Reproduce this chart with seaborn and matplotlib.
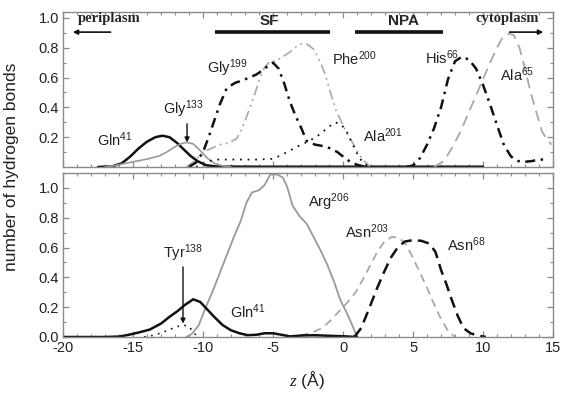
import matplotlib
matplotlib.use("Agg")
import matplotlib.pyplot as plt
from matplotlib.ticker import MultipleLocator, FixedLocator
import seaborn as sns
import pandas as pd

# ---------------- data ----------------
# top panel
gln41_top_x = [-17.5, -16.5, -15.8, -15.2, -14.6, -14.0, -13.4, -12.9, -12.4, -11.9, -11.4, -10.9, -10.4, -9.8, -9.0, -6.0, -2.0, 2.0, 6.0, 10.0]
gln41_top_y = [0.0, 0.004, 0.025, 0.07, 0.125, 0.17, 0.2, 0.21, 0.2, 0.165, 0.12, 0.075, 0.04, 0.012, 0.003, 0.002, 0.002, 0.002, 0.002, 0.002]

gly133_x = [-17.0, -16.3, -15.5, -14.7, -13.9, -13.1, -12.6, -12.1, -11.6, -11.2, -10.7, -10.2, -9.7, -9.2, -8.6, -8.0]
gly133_y = [0.0, 0.01, 0.025, 0.04, 0.055, 0.075, 0.1, 0.13, 0.155, 0.165, 0.155, 0.11, 0.06, 0.025, 0.008, 0.0]

gly199_x = [-11.0, -10.5, -10.0, -9.6, -9.2, -8.8, -8.3, -7.7, -7.2, -6.7, -6.2, -5.8, -5.4, -5.0, -4.6, -4.2, -3.8, -3.4, -3.0, -2.6, -2.0, -1.4, -0.9, -0.4, 0.2, 0.6, 1.0, 1.5]
gly199_y = [0.0, 0.03, 0.1, 0.2, 0.31, 0.42, 0.53, 0.565, 0.58, 0.6, 0.62, 0.645, 0.675, 0.70, 0.66, 0.56, 0.44, 0.345, 0.265, 0.175, 0.15, 0.14, 0.125, 0.1, 0.055, 0.03, 0.015, 0.003]

phe200_x = [-11.2, -10.6, -10.0, -9.4, -8.8, -8.2, -7.6, -7.2, -6.8, -6.4, -6.0, -5.6, -5.2, -4.8, -4.3, -3.8, -3.3, -2.9, -2.5, -2.1, -1.7, -1.3, -0.9, -0.5, -0.1, 0.3, 0.7, 1.1, 1.5, 1.9]
phe200_y = [0.0, 0.04, 0.1, 0.125, 0.15, 0.16, 0.19, 0.26, 0.36, 0.46, 0.58, 0.67, 0.71, 0.71, 0.74, 0.77, 0.81, 0.83, 0.82, 0.79, 0.72, 0.63, 0.5, 0.38, 0.3, 0.22, 0.16, 0.09, 0.04, 0.005]

ala201_x = [-10.5, -9.8, -9.2, -8.0, -7.0, -6.0, -5.0, -4.4, -3.8, -3.1, -2.4, -1.8, -1.2, -0.6, -0.2, 0.2, 0.6, 1.0, 1.4, 1.8]
ala201_y = [0.0, 0.03, 0.05, 0.05, 0.05, 0.05, 0.055, 0.08, 0.11, 0.145, 0.175, 0.21, 0.255, 0.3, 0.29, 0.25, 0.17, 0.09, 0.03, 0.005]

his66_x = [4.5, 5.0, 5.5, 6.0, 6.5, 7.0, 7.5, 8.0, 8.5, 9.0, 9.5, 10.0, 10.5, 11.0, 11.5, 12.0, 12.5, 13.0, 13.5, 14.0, 14.5]
his66_y = [0.0, 0.01, 0.06, 0.15, 0.26, 0.4, 0.59, 0.71, 0.74, 0.72, 0.66, 0.55, 0.42, 0.28, 0.145, 0.07, 0.04, 0.035, 0.04, 0.05, 0.05]

ala65_x = [6.5, 7.2, 7.8, 8.4, 9.0, 9.5, 10.0, 10.5, 11.0, 11.4, 11.8, 12.2, 12.6, 13.0, 13.4, 13.8, 14.2, 14.6, 14.9]
ala65_y = [0.0, 0.04, 0.13, 0.24, 0.37, 0.48, 0.59, 0.7, 0.8, 0.87, 0.895, 0.885, 0.8, 0.66, 0.5, 0.37, 0.24, 0.18, 0.15]

# bottom panel
gln41_bot_x = [-20.0, -17.0, -16.0, -15.4, -14.6, -13.8, -13.0, -12.4, -11.8, -11.3, -10.7, -10.2, -9.7, -9.2, -8.6, -8.0, -7.4, -6.8, -6.2, -5.6, -5.0, -4.4, -3.8, -3.0, -2.0, -1.0, 0.0, 1.0]
gln41_bot_y = [0.0, 0.0, 0.003, 0.013, 0.03, 0.05, 0.09, 0.135, 0.175, 0.215, 0.253, 0.235, 0.185, 0.135, 0.08, 0.045, 0.025, 0.012, 0.015, 0.025, 0.025, 0.015, 0.004, 0.01, 0.012, 0.008, 0.005, 0.0]

tyr138_x = [-14.2, -13.5, -12.9, -12.4, -11.9, -11.4, -11.0, -10.7, -10.4]
tyr138_y = [0.0, 0.012, 0.03, 0.05, 0.068, 0.08, 0.07, 0.035, 0.0]

arg206_x = [-11.2, -10.8, -10.3, -9.8, -9.3, -8.8, -8.3, -7.8, -7.3, -6.9, -6.5, -6.0, -5.6, -5.2, -4.7, -4.3, -4.0, -3.6, -3.1, -2.6, -2.1, -1.6, -1.1, -0.6, -0.2, 0.3, 0.7, 1.0]
arg206_y = [0.0, 0.02, 0.08, 0.2, 0.31, 0.43, 0.55, 0.67, 0.78, 0.9, 0.97, 0.985, 1.02, 1.09, 1.09, 1.07, 1.01, 0.88, 0.81, 0.76, 0.67, 0.58, 0.48, 0.36, 0.25, 0.155, 0.07, 0.0]

asn203_x = [-4.0, -3.0, -2.2, -1.5, -0.9, -0.3, 0.3, 0.9, 1.5, 2.0, 2.5, 3.0, 3.5, 4.0, 4.5, 5.0, 5.5, 6.0, 6.5, 7.0, 7.5, 8.0]
asn203_y = [0.0, 0.01, 0.03, 0.06, 0.11, 0.17, 0.23, 0.3, 0.4, 0.49, 0.58, 0.645, 0.672, 0.665, 0.62, 0.53, 0.43, 0.33, 0.22, 0.12, 0.04, 0.0]

asn68_x = [0.8, 1.3, 1.9, 2.4, 2.9, 3.4, 3.9, 4.4, 5.0, 5.6, 6.2, 6.6, 7.0, 7.4, 7.8, 8.2, 8.6, 9.1, 9.6, 10.2]
asn68_y = [0.0, 0.06, 0.2, 0.32, 0.43, 0.53, 0.6, 0.64, 0.65, 0.645, 0.625, 0.57, 0.45, 0.35, 0.24, 0.14, 0.06, 0.025, 0.01, 0.0]

x_ticks = [-20, -15, -10, -5, 0, 5, 10, 15]
x_tick_labels = ["-20", "-15", "-10", "-5", "0", "5", "10", "15"]
top_y_ticks = [0.2, 0.4, 0.6, 0.8, 1.0]
bot_y_ticks = [0.0, 0.2, 0.4, 0.6, 0.8, 1.0]

# ---------------- style ----------------
sns.set_style("ticks")
plt.rcParams["font.family"] = ["Liberation Sans", "DejaVu Sans"]
plt.rcParams["mathtext.fontset"] = "custom"
plt.rcParams["mathtext.rm"] = "Liberation Sans"
plt.rcParams["mathtext.it"] = "Liberation Serif:italic"
plt.rcParams["mathtext.bf"] = "Liberation Sans:bold"
plt.rcParams["mathtext.default"] = "regular"
plt.rcParams["axes.unicode_minus"] = False

BLACK = "#111111"
GRAY = "#9a9a9a"
LGRAY = "#a8a8a8"
FRAME = "#8a8a8a"

fig = plt.figure(figsize=(5.62, 3.96), dpi=100)
ax1 = fig.add_axes([0.1121, 0.5783, 0.872, 0.3914])
ax2 = fig.add_axes([0.1121, 0.149, 0.872, 0.4141])


def draw(ax, xs, ys, color, lw, ls):
    df = pd.DataFrame({"z": xs, "n": ys})
    sns.lineplot(data=df, x="z", y="n", ax=ax, color=color, linewidth=lw,
                 linestyle=ls, estimator=None, sort=False, legend=False)


# top panel curves
draw(ax1, gln41_top_x, gln41_top_y, BLACK, 1.8, "-")
draw(ax1, gly133_x, gly133_y, GRAY, 1.2, "-")
draw(ax1, phe200_x, phe200_y, LGRAY, 1.2, (0, (6, 2.5, 1.2, 2.5, 1.2, 2.5)))
draw(ax1, gly199_x, gly199_y, BLACK, 1.8, (0, (4, 2.2, 1, 2.2)))
draw(ax1, ala201_x, ala201_y, BLACK, 1.3, (0, (1, 3.2)))
draw(ax1, his66_x, his66_y, BLACK, 1.8, (0, (4, 2.2, 1, 2.2)))
draw(ax1, ala65_x, ala65_y, LGRAY, 1.3, (0, (6, 3.5)))

# bottom panel curves
draw(ax2, arg206_x, arg206_y, GRAY, 1.3, "-")
draw(ax2, asn203_x, asn203_y, LGRAY, 1.3, (0, (4.5, 3)))
draw(ax2, gln41_bot_x, gln41_bot_y, BLACK, 1.8, "-")
draw(ax2, tyr138_x, tyr138_y, BLACK, 1.2, (0, (1, 3.2)))
draw(ax2, asn68_x, asn68_y, BLACK, 1.8, (0, (4.5, 2.5)))

for ax in (ax1, ax2):
    ax.set_xlim(-20, 15)
    ax.set_xlabel("")
    ax.set_ylabel("")
    ax.xaxis.set_major_locator(FixedLocator(x_ticks))
    ax.xaxis.set_minor_locator(MultipleLocator(1))
    ax.yaxis.set_minor_locator(MultipleLocator(0.1))
    ax.tick_params(which="both", direction="in", top=True, right=True,
                   color=FRAME, labelsize=10.5, labelcolor="#222222")
    ax.tick_params(which="major", length=4.5, width=0.9, pad=3)
    ax.tick_params(which="minor", length=2.5, width=0.8)
    for s in ax.spines.values():
        s.set_color(FRAME)
        s.set_linewidth(1.0)

ax1.set_ylim(0, 1.04)
ax1.yaxis.set_major_locator(FixedLocator(top_y_ticks))
ax1.set_yticklabels([f"{v:.1f}" for v in top_y_ticks])
ax1.set_xticklabels([])

ax2.set_ylim(0, 1.1)
ax2.yaxis.set_major_locator(FixedLocator(bot_y_ticks))
ax2.set_yticklabels([f"{v:.1f}" for v in bot_y_ticks])
ax2.set_xticklabels(x_tick_labels)

# region labels on top panel
serif = ["Liberation Serif", "DejaVu Serif"]
ax1.text(-16.7, 0.995, "periplasm", family=serif, weight="bold", fontsize=10.5,
         ha="center", va="center")
ax1.annotate("", xy=(-19.3, 0.905), xytext=(-16.6, 0.905),
             arrowprops=dict(arrowstyle="-|>", color=BLACK, lw=1.2, mutation_scale=7,
                             shrinkA=0, shrinkB=0))
ax1.text(11.7, 0.995, "cytoplasm", family=serif, weight="bold", fontsize=10.5,
         ha="center", va="center")
ax1.annotate("", xy=(14.3, 0.905), xytext=(11.9, 0.905),
             arrowprops=dict(arrowstyle="-|>", color=BLACK, lw=1.2, mutation_scale=7,
                             shrinkA=0, shrinkB=0))
ax1.text(-5.3, 0.98, "SF", weight="bold", fontsize=11, ha="center", va="center")
ax1.plot([-9.15, -0.95], [0.905, 0.905], color=BLACK, lw=2.6, solid_capstyle="butt")
ax1.text(4.3, 0.98, "NPA", weight="bold", fontsize=11, ha="center", va="center")
ax1.plot([0.85, 7.15], [0.905, 0.905], color=BLACK, lw=2.6, solid_capstyle="butt")

lab_fs = 10.5
top_labels = [
    (-17.6, 0.142, "Gln$^{41}$"),
    (-12.86, 0.353, "Gly$^{133}$"),
    (-9.72, 0.63, "Gly$^{199}$"),
    (-0.79, 0.687, "Phe$^{200}$"),
    (1.43, 0.169, "Ala$^{201}$"),
    (5.86, 0.691, "His$^{66}$"),
    (11.2, 0.58, "Ala$^{65}$"),
]
for x, y, t in top_labels:
    ax1.text(x, y, t, fontsize=lab_fs, ha="left", va="baseline", color="#222222")
ax1.annotate("", xy=(-11.14, 0.165), xytext=(-11.14, 0.29),
             arrowprops=dict(arrowstyle="-|>", color=BLACK, lw=1.0, mutation_scale=7,
                             shrinkA=0, shrinkB=0))

bot_labels = [
    (-12.86, 0.528, "Tyr$^{138}$"),
    (-8.07, 0.125, "Gln$^{41}$"),
    (-2.5, 0.87, "Arg$^{206}$"),
    (0.14, 0.662, "Asn$^{203}$"),
    (7.43, 0.577, "Asn$^{68}$"),
]
for x, y, t in bot_labels:
    ax2.text(x, y, t, fontsize=lab_fs, ha="left", va="baseline", color="#222222")
ax2.annotate("", xy=(-11.43, 0.09), xytext=(-11.43, 0.47),
             arrowprops=dict(arrowstyle="-|>", color=BLACK, lw=1.0, mutation_scale=7,
                             shrinkA=0, shrinkB=0))

fig.text(0.021, 0.58, "number of hydrogen bonds", rotation=90, fontsize=12.5,
         ha="center", va="center", color="#222222")
fig.text(0.546, 0.04, "$\\mathit{z}$ (Å)", fontsize=12.5, ha="center", va="center",
         color="#222222")

fig.savefig("out.png", dpi=100)
